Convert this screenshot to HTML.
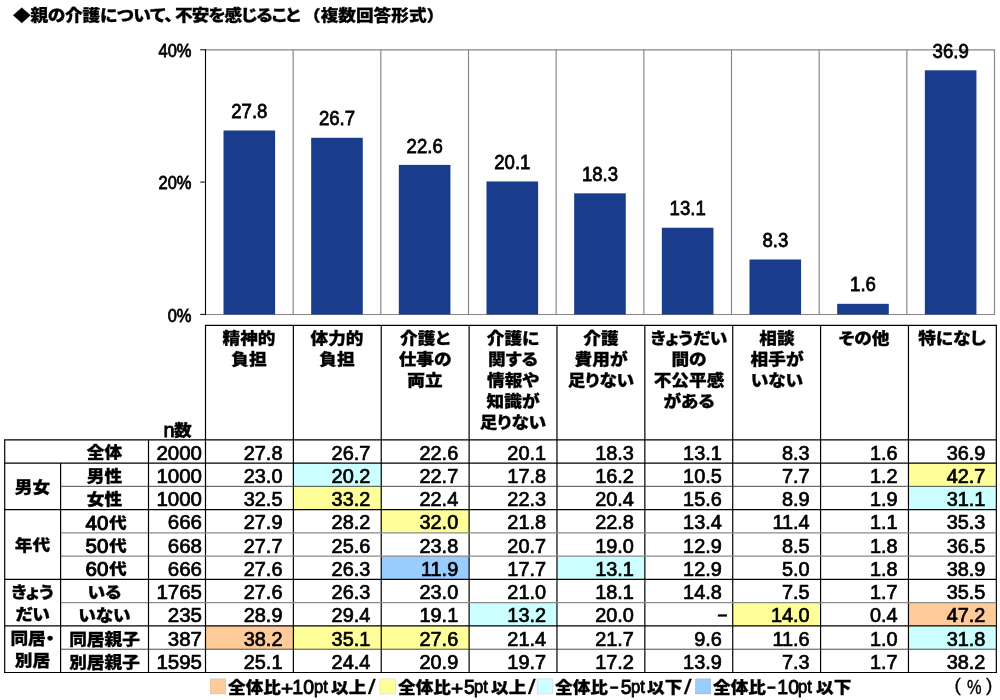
<!DOCTYPE html>
<html lang="ja"><head><meta charset="utf-8"><title>親の介護について、不安を感じること</title>
<style>
html,body{margin:0;padding:0;background:#fff;}
body{width:1000px;height:700px;position:relative;overflow:hidden;color:#000;font-family:"Liberation Sans","Noto Sans CJK JP",sans-serif;}
.a{position:absolute;}
svg{position:absolute;left:0;top:0;}
.j{font-family:"Liberation Sans","Noto Sans CJK JP",sans-serif;font-weight:900;white-space:nowrap;font-feature-settings:"palt";transform:scale(1.07,0.95);transform-origin:50% 0;-webkit-text-stroke:0.3px #000;}
.n{font-family:"Liberation Sans",sans-serif;white-space:nowrap;-webkit-text-stroke:0.7px #000;}
.dl{position:absolute;font-size:18.6px;line-height:18px;text-align:center;width:88px;transform:scaleY(1.08);}
.ax{position:absolute;font-size:16.5px;line-height:18px;text-align:right;width:60px;left:131.5px;transform:scaleY(1.12);}
.h{position:absolute;top:328px;width:88px;text-align:center;font-size:16.5px;line-height:22.1px;}
.c{position:absolute;height:23px;font-size:20.5px;line-height:25px;text-align:right;}
.v{font-size:19.9px;line-height:26.2px;}
.s{position:absolute;font-size:16.5px;line-height:23px;text-align:center;}
.pJ{position:absolute;white-space:nowrap;line-height:20px;transform-origin:0 0;font-family:"Liberation Sans","Noto Sans CJK JP",sans-serif;font-weight:900;font-size:16.5px;font-feature-settings:"palt";transform:scale(1.07,0.95);-webkit-text-stroke:0.3px #000;}
.pP{position:absolute;white-space:nowrap;line-height:20px;transform-origin:0 0;font-family:"Liberation Sans",sans-serif;font-weight:400;font-size:19px;transform:scale(1.1,1);-webkit-text-stroke:0.9px #000;}
.pD{position:absolute;white-space:nowrap;line-height:20px;transform-origin:0 0;font-family:"Liberation Sans",sans-serif;font-weight:400;font-size:19.5px;letter-spacing:0px;-webkit-text-stroke:0.9px #000;}
.pT{position:absolute;white-space:nowrap;line-height:20px;transform-origin:0 0;font-family:"Liberation Sans",sans-serif;font-weight:400;font-size:17.5px;-webkit-text-stroke:0.8px #000;transform:scale(0.95,1);}
.pS{position:absolute;white-space:nowrap;line-height:20px;transform-origin:0 0;font-family:"Liberation Sans",sans-serif;font-weight:400;font-size:21px;transform:scale(1.3,1);-webkit-text-stroke:0.3px #000;}
.pM{position:absolute;white-space:nowrap;line-height:20px;transform-origin:0 0;font-family:"Liberation Sans",sans-serif;font-weight:700;font-size:15px;-webkit-text-stroke:0.6px #000;}
.pQ{position:absolute;white-space:nowrap;line-height:20px;transform-origin:0 0;font-family:"Liberation Sans",sans-serif;font-weight:400;font-size:19.5px;-webkit-text-stroke:0.35px #000;transform:scale(0.84,1);}
.pN{position:absolute;white-space:nowrap;line-height:20px;transform-origin:0 0;font-family:"Liberation Sans",sans-serif;font-weight:400;font-size:20px;-webkit-text-stroke:0.9px #000;}
.pE{position:absolute;white-space:nowrap;line-height:20px;transform-origin:0 0;font-family:"Liberation Sans",sans-serif;font-weight:400;font-size:20.5px;-webkit-text-stroke:1.05px #000;}
.pR{position:absolute;white-space:nowrap;line-height:20px;transform-origin:0 0;font-family:"Liberation Sans",sans-serif;font-weight:400;font-size:19px;-webkit-text-stroke:0.3px #000;}
</style></head><body>
<svg width="1000" height="700" viewBox="0 0 1000 700">
<rect x="293.37" y="463.07" width="87.87" height="23.27" fill="#ccffff"/>
<rect x="908.46" y="463.07" width="86.47" height="23.27" fill="#ffff99"/>
<rect x="293.37" y="486.34" width="87.87" height="23.27" fill="#ffff99"/>
<rect x="908.46" y="486.34" width="86.47" height="23.27" fill="#ccffff"/>
<rect x="381.24" y="509.61" width="87.87" height="23.27" fill="#ffff99"/>
<rect x="381.24" y="556.15" width="87.87" height="23.27" fill="#99ccff"/>
<rect x="556.98" y="556.15" width="87.87" height="23.27" fill="#ccffff"/>
<rect x="469.11" y="602.69" width="87.87" height="23.27" fill="#ccffff"/>
<rect x="732.72" y="602.69" width="87.87" height="23.27" fill="#ffff99"/>
<rect x="908.46" y="602.69" width="86.47" height="23.27" fill="#ffcc99"/>
<rect x="205.50" y="625.96" width="87.87" height="23.27" fill="#ffcc99"/>
<rect x="293.37" y="625.96" width="87.87" height="23.27" fill="#ffff99"/>
<rect x="381.24" y="625.96" width="87.87" height="23.27" fill="#ffff99"/>
<rect x="908.46" y="625.96" width="86.47" height="23.27" fill="#ccffff"/>
<rect x="210.3" y="678.8" width="15.4" height="15.2" fill="#ffcc99" stroke="#000" stroke-opacity="0.13" stroke-width="0.7"/>
<rect x="380" y="678.8" width="15.4" height="15.2" fill="#ffff99" stroke="#000" stroke-opacity="0.13" stroke-width="0.7"/>
<rect x="537.1" y="678.8" width="15.4" height="15.2" fill="#ccffff" stroke="#000" stroke-opacity="0.13" stroke-width="0.7"/>
<rect x="695.4" y="678.8" width="15.4" height="15.2" fill="#99ccff" stroke="#000" stroke-opacity="0.13" stroke-width="0.7"/>
<line x1="205.50" y1="49.80" x2="995.00" y2="49.80" stroke="#868686" stroke-width="1.15"/>
<line x1="293.17" y1="49.80" x2="293.17" y2="314.40" stroke="#868686" stroke-width="1.15"/>
<line x1="380.83" y1="49.80" x2="380.83" y2="314.40" stroke="#868686" stroke-width="1.15"/>
<line x1="468.50" y1="49.80" x2="468.50" y2="314.40" stroke="#868686" stroke-width="1.15"/>
<line x1="556.17" y1="49.80" x2="556.17" y2="314.40" stroke="#868686" stroke-width="1.15"/>
<line x1="643.84" y1="49.80" x2="643.84" y2="314.40" stroke="#868686" stroke-width="1.15"/>
<line x1="731.50" y1="49.80" x2="731.50" y2="314.40" stroke="#868686" stroke-width="1.15"/>
<line x1="819.17" y1="49.80" x2="819.17" y2="314.40" stroke="#868686" stroke-width="1.15"/>
<line x1="906.84" y1="49.80" x2="906.84" y2="314.40" stroke="#868686" stroke-width="1.15"/>
<line x1="994.50" y1="49.80" x2="994.50" y2="314.40" stroke="#868686" stroke-width="1.15"/>
<line x1="205.50" y1="314.50" x2="995.00" y2="314.50" stroke="#868686" stroke-width="1.0"/>
<rect x="223.50" y="130.50" width="51.6" height="184.00" fill="#193c8d"/>
<rect x="311.17" y="137.78" width="51.6" height="176.72" fill="#193c8d"/>
<rect x="398.83" y="164.90" width="51.6" height="149.60" fill="#193c8d"/>
<rect x="486.50" y="181.44" width="51.6" height="133.06" fill="#193c8d"/>
<rect x="574.17" y="193.35" width="51.6" height="121.15" fill="#193c8d"/>
<rect x="661.84" y="227.74" width="51.6" height="86.76" fill="#193c8d"/>
<rect x="749.50" y="259.50" width="51.6" height="55.00" fill="#193c8d"/>
<rect x="837.17" y="303.82" width="51.6" height="10.68" fill="#193c8d"/>
<rect x="924.84" y="70.31" width="51.6" height="244.19" fill="#193c8d"/>
<line x1="205.50" y1="49.30" x2="205.50" y2="314.90" stroke="#000" stroke-width="1.1"/>
<line x1="200.20" y1="49.80" x2="205.50" y2="49.80" stroke="#000" stroke-width="1.0"/>
<line x1="200.20" y1="182.10" x2="205.50" y2="182.10" stroke="#000" stroke-width="1.0"/>
<line x1="200.20" y1="314.40" x2="205.50" y2="314.40" stroke="#000" stroke-width="1.0"/>
<line x1="204.90" y1="325.40" x2="996.93" y2="325.40" stroke="#000" stroke-width="1.2"/>
<line x1="205.50" y1="325.40" x2="205.50" y2="673.10" stroke="#000" stroke-width="1.2"/>
<line x1="293.37" y1="325.40" x2="293.37" y2="673.10" stroke="#000" stroke-width="1.2"/>
<line x1="381.24" y1="325.40" x2="381.24" y2="673.10" stroke="#000" stroke-width="1.2"/>
<line x1="469.11" y1="325.40" x2="469.11" y2="673.10" stroke="#000" stroke-width="1.2"/>
<line x1="556.98" y1="325.40" x2="556.98" y2="673.10" stroke="#000" stroke-width="1.2"/>
<line x1="644.85" y1="325.40" x2="644.85" y2="673.10" stroke="#000" stroke-width="1.2"/>
<line x1="732.72" y1="325.40" x2="732.72" y2="673.10" stroke="#000" stroke-width="1.2"/>
<line x1="820.59" y1="325.40" x2="820.59" y2="673.10" stroke="#000" stroke-width="1.2"/>
<line x1="908.46" y1="325.40" x2="908.46" y2="673.10" stroke="#000" stroke-width="1.2"/>
<line x1="996.33" y1="325.40" x2="996.33" y2="673.10" stroke="#000" stroke-width="1.2"/>
<line x1="4.10" y1="439.80" x2="996.93" y2="439.80" stroke="#000" stroke-width="1.2"/>
<line x1="4.10" y1="463.07" x2="996.93" y2="463.07" stroke="#000" stroke-width="1.2"/>
<line x1="60.60" y1="486.34" x2="996.33" y2="486.34" stroke="#2a2a2a" stroke-width="0.85"/>
<line x1="4.10" y1="509.61" x2="996.93" y2="509.61" stroke="#000" stroke-width="1.2"/>
<line x1="60.60" y1="532.88" x2="996.33" y2="532.88" stroke="#8a8a8a" stroke-width="1.3"/>
<line x1="60.60" y1="556.15" x2="996.33" y2="556.15" stroke="#8a8a8a" stroke-width="1.3"/>
<line x1="4.10" y1="579.42" x2="996.93" y2="579.42" stroke="#000" stroke-width="1.2"/>
<line x1="60.60" y1="602.69" x2="996.33" y2="602.69" stroke="#8a8a8a" stroke-width="1.3"/>
<line x1="4.10" y1="625.96" x2="996.93" y2="625.96" stroke="#000" stroke-width="1.2"/>
<line x1="60.60" y1="649.23" x2="996.33" y2="649.23" stroke="#2a2a2a" stroke-width="0.85"/>
<line x1="4.10" y1="672.50" x2="996.93" y2="672.50" stroke="#000" stroke-width="1.2"/>
<line x1="4.70" y1="439.80" x2="4.70" y2="673.10" stroke="#000" stroke-width="1.2"/>
<line x1="60.60" y1="463.07" x2="60.60" y2="672.50" stroke="#000" stroke-width="1.2"/>
<line x1="148.50" y1="439.80" x2="148.50" y2="672.50" stroke="#000" stroke-width="1.2"/>
</svg>
<div class="a j" style="left:13px;font-size:16.5px;line-height:24px;top:3.5px;transform-origin:0 0;letter-spacing:-0.2px;">◆親の介護について、</div>
<div class="a j" style="left:174.5px;font-size:16.5px;line-height:24px;top:3.5px;transform-origin:0 0;letter-spacing:-0.85px;">不安を感じること</div>
<div class="a j" style="left:303px;font-size:16.5px;line-height:24px;top:3.5px;transform-origin:0 0;font-feature-settings:normal;">（複数回答形式）</div>
<div class="ax n" style="top:41.10px;">40%</div>
<div class="ax n" style="top:173.40px;">20%</div>
<div class="ax n" style="top:305.70px;">0%</div>
<div class="dl n" style="left:205.35px;top:103.10px;">27.8</div>
<div class="dl n" style="left:293.02px;top:110.38px;">26.7</div>
<div class="dl n" style="left:380.68px;top:137.50px;">22.6</div>
<div class="dl n" style="left:468.35px;top:154.04px;">20.1</div>
<div class="dl n" style="left:556.02px;top:165.95px;">18.3</div>
<div class="dl n" style="left:643.69px;top:200.34px;">13.1</div>
<div class="dl n" style="left:731.35px;top:232.10px;">8.3</div>
<div class="dl n" style="left:819.02px;top:276.42px;">1.6</div>
<div class="dl n" style="left:906.69px;top:42.91px;">36.9</div>
<div class="h j" style="left:205.40px;">精神的<br>負担</div>
<div class="h j" style="left:293.27px;">体力的<br>負担</div>
<div class="h j" style="left:381.14px;">介護と<br>仕事の<br>両立</div>
<div class="h j" style="left:469.01px;">介護に<br>関する<br>情報や<br>知識が<br>足りない</div>
<div class="h j" style="left:556.88px;">介護<br>費用が<br>足りない</div>
<div class="h j" style="left:644.75px;">きょうだい<br>間の<br>不公平感<br>がある</div>
<div class="h j" style="left:732.62px;">相談<br>相手が<br>いない</div>
<div class="h j" style="left:820.49px;">その他</div>
<div class="h j" style="left:908.36px;">特になし</div>
<div class="s j" style="left:60.3px;top:442.40px;width:89px;">全体</div>
<div class="c n" style="left:149px;top:439.60px;width:53px;">2000</div>
<div class="c n v" style="left:205.50px;top:439.60px;width:76.97px;">27.8</div>
<div class="c n v" style="left:293.37px;top:439.60px;width:76.97px;">26.7</div>
<div class="c n v" style="left:381.24px;top:439.60px;width:76.97px;">22.6</div>
<div class="c n v" style="left:469.11px;top:439.60px;width:76.97px;">20.1</div>
<div class="c n v" style="left:556.98px;top:439.60px;width:76.97px;">18.3</div>
<div class="c n v" style="left:644.85px;top:439.60px;width:76.97px;">13.1</div>
<div class="c n v" style="left:732.72px;top:439.60px;width:76.97px;">8.3</div>
<div class="c n v" style="left:820.59px;top:439.60px;width:76.97px;">1.6</div>
<div class="c n v" style="left:908.46px;top:439.60px;width:76.97px;">36.9</div>
<div class="s j" style="left:60.3px;top:465.67px;width:89px;">男性</div>
<div class="c n" style="left:149px;top:462.87px;width:53px;">1000</div>
<div class="c n v" style="left:205.50px;top:462.87px;width:76.97px;">23.0</div>
<div class="c n v" style="left:293.37px;top:462.87px;width:76.97px;">20.2</div>
<div class="c n v" style="left:381.24px;top:462.87px;width:76.97px;">22.7</div>
<div class="c n v" style="left:469.11px;top:462.87px;width:76.97px;">17.8</div>
<div class="c n v" style="left:556.98px;top:462.87px;width:76.97px;">16.2</div>
<div class="c n v" style="left:644.85px;top:462.87px;width:76.97px;">10.5</div>
<div class="c n v" style="left:732.72px;top:462.87px;width:76.97px;">7.7</div>
<div class="c n v" style="left:820.59px;top:462.87px;width:76.97px;">1.2</div>
<div class="c n v" style="left:908.46px;top:462.87px;width:76.97px;">42.7</div>
<div class="s j" style="left:60.3px;top:488.94px;width:89px;">女性</div>
<div class="c n" style="left:149px;top:486.14px;width:53px;">1000</div>
<div class="c n v" style="left:205.50px;top:486.14px;width:76.97px;">32.5</div>
<div class="c n v" style="left:293.37px;top:486.14px;width:76.97px;">33.2</div>
<div class="c n v" style="left:381.24px;top:486.14px;width:76.97px;">22.4</div>
<div class="c n v" style="left:469.11px;top:486.14px;width:76.97px;">22.3</div>
<div class="c n v" style="left:556.98px;top:486.14px;width:76.97px;">20.4</div>
<div class="c n v" style="left:644.85px;top:486.14px;width:76.97px;">15.6</div>
<div class="c n v" style="left:732.72px;top:486.14px;width:76.97px;">8.9</div>
<div class="c n v" style="left:820.59px;top:486.14px;width:76.97px;">1.9</div>
<div class="c n v" style="left:908.46px;top:486.14px;width:76.97px;">31.1</div>
<div class="c n" style="left:149px;top:509.41px;width:53px;">666</div>
<div class="c n v" style="left:205.50px;top:509.41px;width:76.97px;">27.9</div>
<div class="c n v" style="left:293.37px;top:509.41px;width:76.97px;">28.2</div>
<div class="c n v" style="left:381.24px;top:509.41px;width:76.97px;">32.0</div>
<div class="c n v" style="left:469.11px;top:509.41px;width:76.97px;">21.8</div>
<div class="c n v" style="left:556.98px;top:509.41px;width:76.97px;">22.8</div>
<div class="c n v" style="left:644.85px;top:509.41px;width:76.97px;">13.4</div>
<div class="c n v" style="left:732.72px;top:509.41px;width:76.97px;">11.4</div>
<div class="c n v" style="left:820.59px;top:509.41px;width:76.97px;">1.1</div>
<div class="c n v" style="left:908.46px;top:509.41px;width:76.97px;">35.3</div>
<div class="c n" style="left:149px;top:532.68px;width:53px;">668</div>
<div class="c n v" style="left:205.50px;top:532.68px;width:76.97px;">27.7</div>
<div class="c n v" style="left:293.37px;top:532.68px;width:76.97px;">25.6</div>
<div class="c n v" style="left:381.24px;top:532.68px;width:76.97px;">23.8</div>
<div class="c n v" style="left:469.11px;top:532.68px;width:76.97px;">20.7</div>
<div class="c n v" style="left:556.98px;top:532.68px;width:76.97px;">19.0</div>
<div class="c n v" style="left:644.85px;top:532.68px;width:76.97px;">12.9</div>
<div class="c n v" style="left:732.72px;top:532.68px;width:76.97px;">8.5</div>
<div class="c n v" style="left:820.59px;top:532.68px;width:76.97px;">1.8</div>
<div class="c n v" style="left:908.46px;top:532.68px;width:76.97px;">36.5</div>
<div class="c n" style="left:149px;top:555.95px;width:53px;">666</div>
<div class="c n v" style="left:205.50px;top:555.95px;width:76.97px;">27.6</div>
<div class="c n v" style="left:293.37px;top:555.95px;width:76.97px;">26.3</div>
<div class="c n v" style="left:381.24px;top:555.95px;width:76.97px;">11.9</div>
<div class="c n v" style="left:469.11px;top:555.95px;width:76.97px;">17.7</div>
<div class="c n v" style="left:556.98px;top:555.95px;width:76.97px;">13.1</div>
<div class="c n v" style="left:644.85px;top:555.95px;width:76.97px;">12.9</div>
<div class="c n v" style="left:732.72px;top:555.95px;width:76.97px;">5.0</div>
<div class="c n v" style="left:820.59px;top:555.95px;width:76.97px;">1.8</div>
<div class="c n v" style="left:908.46px;top:555.95px;width:76.97px;">38.9</div>
<div class="s j" style="left:60.3px;top:582.02px;width:89px;">いる</div>
<div class="c n" style="left:149px;top:579.22px;width:53px;">1765</div>
<div class="c n v" style="left:205.50px;top:579.22px;width:76.97px;">27.6</div>
<div class="c n v" style="left:293.37px;top:579.22px;width:76.97px;">26.3</div>
<div class="c n v" style="left:381.24px;top:579.22px;width:76.97px;">23.0</div>
<div class="c n v" style="left:469.11px;top:579.22px;width:76.97px;">21.0</div>
<div class="c n v" style="left:556.98px;top:579.22px;width:76.97px;">18.1</div>
<div class="c n v" style="left:644.85px;top:579.22px;width:76.97px;">14.8</div>
<div class="c n v" style="left:732.72px;top:579.22px;width:76.97px;">7.5</div>
<div class="c n v" style="left:820.59px;top:579.22px;width:76.97px;">1.7</div>
<div class="c n v" style="left:908.46px;top:579.22px;width:76.97px;">35.5</div>
<div class="s j" style="left:60.3px;top:605.29px;width:89px;">いない</div>
<div class="c n" style="left:149px;top:602.49px;width:53px;">235</div>
<div class="c n v" style="left:205.50px;top:602.49px;width:76.97px;">28.9</div>
<div class="c n v" style="left:293.37px;top:602.49px;width:76.97px;">29.4</div>
<div class="c n v" style="left:381.24px;top:602.49px;width:76.97px;">19.1</div>
<div class="c n v" style="left:469.11px;top:602.49px;width:76.97px;">13.2</div>
<div class="c n v" style="left:556.98px;top:602.49px;width:76.97px;">20.0</div>
<div class="c n v" style="left:644.85px;top:602.49px;width:76.97px;"><span style="font-size:14px;position:relative;top:-3px;left:4.5px;-webkit-text-stroke:1.3px #000;">–</span></div>
<div class="c n v" style="left:732.72px;top:602.49px;width:76.97px;">14.0</div>
<div class="c n v" style="left:820.59px;top:602.49px;width:76.97px;">0.4</div>
<div class="c n v" style="left:908.46px;top:602.49px;width:76.97px;">47.2</div>
<div class="s j" style="left:60.3px;top:628.56px;width:89px;">同居親子</div>
<div class="c n" style="left:149px;top:625.76px;width:53px;">387</div>
<div class="c n v" style="left:205.50px;top:625.76px;width:76.97px;">38.2</div>
<div class="c n v" style="left:293.37px;top:625.76px;width:76.97px;">35.1</div>
<div class="c n v" style="left:381.24px;top:625.76px;width:76.97px;">27.6</div>
<div class="c n v" style="left:469.11px;top:625.76px;width:76.97px;">21.4</div>
<div class="c n v" style="left:556.98px;top:625.76px;width:76.97px;">21.7</div>
<div class="c n v" style="left:644.85px;top:625.76px;width:76.97px;">9.6</div>
<div class="c n v" style="left:732.72px;top:625.76px;width:76.97px;">11.6</div>
<div class="c n v" style="left:820.59px;top:625.76px;width:76.97px;">1.0</div>
<div class="c n v" style="left:908.46px;top:625.76px;width:76.97px;">31.8</div>
<div class="s j" style="left:60.3px;top:651.83px;width:89px;">別居親子</div>
<div class="c n" style="left:149px;top:649.03px;width:53px;">1595</div>
<div class="c n v" style="left:205.50px;top:649.03px;width:76.97px;">25.1</div>
<div class="c n v" style="left:293.37px;top:649.03px;width:76.97px;">24.4</div>
<div class="c n v" style="left:381.24px;top:649.03px;width:76.97px;">20.9</div>
<div class="c n v" style="left:469.11px;top:649.03px;width:76.97px;">19.7</div>
<div class="c n v" style="left:556.98px;top:649.03px;width:76.97px;">17.2</div>
<div class="c n v" style="left:644.85px;top:649.03px;width:76.97px;">13.9</div>
<div class="c n v" style="left:732.72px;top:649.03px;width:76.97px;">7.3</div>
<div class="c n v" style="left:820.59px;top:649.03px;width:76.97px;">1.7</div>
<div class="c n v" style="left:908.46px;top:649.03px;width:76.97px;">38.2</div>
<div class="s j" style="left:5px;top:476.84px;width:55px;">男女</div>
<div class="s j" style="left:5px;top:535.02px;width:55px;">年代</div>
<div class="s j" style="left:5px;top:581.69px;width:55px;">きょう<br>だい</div>
<div class="s j" style="left:5px;top:628.23px;width:55px;">同居・<br>別居</div>
<div class="pJ" style="left:227.5px;top:678.2px;">全体比</div>
<div class="pP" style="left:281.4px;top:678.8px;">+</div>
<div class="pD" style="left:292.3px;top:677.0px;">10</div>
<div class="pT" style="left:313.7px;top:677.0px;">pt</div>
<div class="pJ" style="left:330.6px;top:678.2px;">以上</div>
<div class="pS" style="left:367.8px;top:677.0px;">/</div>
<div class="pJ" style="left:397.5px;top:678.2px;">全体比</div>
<div class="pP" style="left:451.4px;top:678.8px;">+</div>
<div class="pD" style="left:464.0px;top:677.0px;">5</div>
<div class="pT" style="left:473.8px;top:677.0px;">pt</div>
<div class="pJ" style="left:490.8px;top:678.2px;">以上</div>
<div class="pS" style="left:527.5px;top:677.0px;">/</div>
<div class="pJ" style="left:555.2px;top:678.2px;">全体比</div>
<div class="pM" style="left:610.0px;top:676.5px;">–</div>
<div class="pD" style="left:620.8px;top:677.0px;">5</div>
<div class="pT" style="left:630.6px;top:677.0px;">pt</div>
<div class="pJ" style="left:646.6px;top:678.2px;">以下</div>
<div class="pS" style="left:683.8px;top:677.0px;">/</div>
<div class="pJ" style="left:712.5px;top:678.2px;">全体比</div>
<div class="pM" style="left:767.3px;top:676.5px;">–</div>
<div class="pD" style="left:777.3px;top:677.0px;">10</div>
<div class="pT" style="left:798.4px;top:677.0px;">pt</div>
<div class="pJ" style="left:815.6px;top:678.2px;">以下</div>
<div class="pR" style="left:954.5px;top:675.0px;">(</div>
<div class="pQ" style="left:967.0px;top:676.5px;">%</div>
<div class="pR" style="left:986.0px;top:675.0px;">)</div>
<div class="pN" style="left:163.4px;top:419.5px;">n</div>
<div class="pJ" style="left:174.3px;top:420.8px;">数</div>
<div class="pE" style="left:85.5px;top:512.6px;">40</div>
<div class="pJ" style="left:108.6px;top:513.6px;">代</div>
<div class="pE" style="left:85.5px;top:535.9px;">50</div>
<div class="pJ" style="left:108.6px;top:536.9px;">代</div>
<div class="pE" style="left:85.5px;top:559.1px;">60</div>
<div class="pJ" style="left:108.6px;top:560.1px;">代</div>
</body></html>
